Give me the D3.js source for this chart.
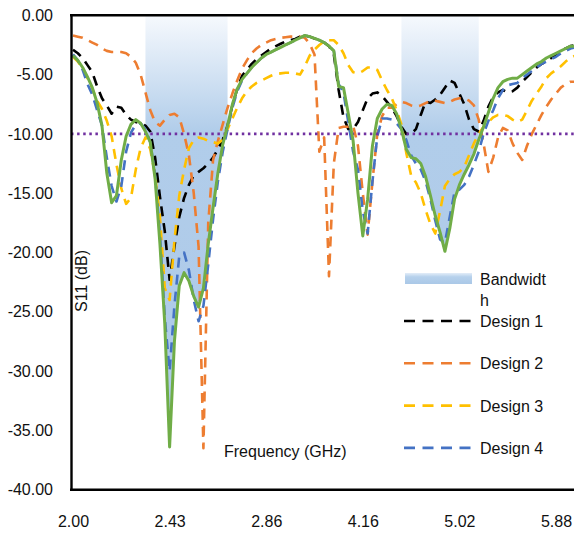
<!DOCTYPE html>
<html>
<head>
<meta charset="utf-8">
<script src="https://cdn.jsdelivr.net/npm/d3@7"></script>
<style>
  html, body { margin: 0; padding: 0; background: #fff; overflow: hidden; }
  text { font-family: "Liberation Sans", Arial, sans-serif; }
</style>
</head>
<body>
<svg id="chart" width="574" height="534"></svg>
<script>
// Frequency category labels, shown on every 20th sample
const tickLabels = ["2.00", "2.43", "2.86", "4.16", "5.02", "5.88"];
const tickStep = 20;
const yTicks = [0, -5, -10, -15, -20, -25, -30, -35, -40];
const threshold = -10;

// Sample index ranges covered by the shaded operating bands
const bandRanges = [[15, 32], [68, 84]];

// S11 (dB) per frequency sample
const design1 = [
  -2.9, -3.2, -3.6, -4.2, -4.8, -6.0, -7.0, -7.6, -8.3, -7.7,
  -7.8, -8.4, -8.8, -9.0, -9.1, -9.3, -9.8, -12.0, -15.3, -18.2,
  -22.3, -19.5, -17.0, -15.4, -14.3, -13.5, -13.2, -12.9, -12.5, -12.0,
  -11.3, -10.5, -9.3, -7.6, -6.2, -5.1, -4.6, -4.1, -3.7, -3.4,
  -3.1, -2.8, -2.6, -2.4, -2.2, -2.1, -2.0, -1.8, -1.7, -1.8,
  -1.95, -2.1, -2.3, -2.6, -3.3, -6.3, -8.6, -9.6, -9.6, -9.0,
  -8.0, -7.0, -6.6, -6.5, -6.8, -7.3, -7.8, -8.5, -9.4, -10.0,
  -10.0, -9.6, -8.4, -7.3, -7.4, -7.1, -6.7, -6.1, -5.5, -5.7,
  -6.6, -7.5, -8.8, -9.6, -9.8, -8.9, -7.7, -6.9, -6.5, -6.3,
  -6.5, -6.4, -6.1, -5.6, -5.2, -4.8, -4.4, -4.1, -3.9, -3.6,
  -3.3, -3.0, -2.8, -2.6, -2.5
];
const design2 = [
  -1.7, -1.8, -1.9, -2.1, -2.3, -2.5, -2.8, -3.0, -3.1, -3.1,
  -3.1, -3.2, -3.5, -4.0, -5.0, -6.5, -8.0, -9.0, -9.3, -8.8,
  -8.4, -8.3, -8.6, -10.0, -11.8, -15.0, -19.5, -36.5, -17.5, -12.2,
  -10.6, -9.2, -7.8, -6.6, -5.5, -4.5, -3.8, -3.2, -2.8, -2.5,
  -2.3, -2.1, -2.0, -1.9, -1.85, -1.8, -1.8, -1.8, -1.9, -2.4,
  -3.3, -11.5, -10.3, -22.0, -12.5, -9.5, -9.4, -9.4, -9.3, -11.0,
  -15.0, -18.5, -14.0, -10.0, -8.5, -7.8, -7.8, -7.5, -7.3, -7.4,
  -7.6, -7.7, -7.6, -7.4, -7.2, -7.2, -7.3, -7.4, -7.3, -7.1,
  -7.0, -7.0, -7.2, -7.6, -8.8, -10.8, -13.2, -12.0, -10.3, -9.5,
  -9.7, -10.8, -11.6, -12.2, -11.0, -10.0, -9.2, -8.4, -7.7, -7.1,
  -6.6, -6.1, -5.8, -5.6, -5.6
];
const design3 = [
  -3.5, -3.9, -4.5, -5.3, -6.2, -7.2, -7.9, -8.9, -10.2, -12.6,
  -14.6, -15.9, -15.4, -13.0, -11.2, -10.3, -11.3, -13.5, -17.0, -23.0,
  -24.0, -19.0, -15.2, -13.0, -11.2, -10.5, -10.3, -10.4, -10.6, -10.7,
  -10.8, -10.5, -9.6, -8.7, -7.8, -7.0, -6.4, -6.0, -5.7, -5.5,
  -5.3, -5.1, -4.95, -4.9, -4.85, -4.85, -4.9, -5.0, -4.3, -3.4,
  -2.9, -2.5, -2.2, -2.1, -2.1, -2.5, -3.2, -4.2, -4.8, -4.9,
  -4.7, -4.4, -4.4, -4.6, -5.5, -6.3, -7.0, -8.0, -9.2, -11.6,
  -13.5, -14.1, -15.0, -16.4, -17.6, -18.4, -16.5, -14.4, -13.8, -13.4,
  -13.2, -12.8, -11.8, -10.8, -10.0, -9.4, -9.0, -8.6, -8.4, -8.4,
  -8.5, -8.8, -9.0, -8.8, -8.0, -7.2, -6.6, -6.0, -5.3, -4.9,
  -4.6, -4.3, -3.9, -3.6, -3.4
];
const design4 = [
  -3.3, -3.8, -4.6, -5.8, -6.7, -8.0, -9.3, -12.0, -14.4, -15.7,
  -14.4, -11.5, -9.9, -9.2, -9.1, -9.6, -10.7, -13.5, -18.5, -25.5,
  -30.0, -24.5, -20.3, -20.0, -21.5, -24.0, -25.8, -24.5, -21.0, -17.2,
  -14.0, -11.5, -9.6, -7.8, -6.4, -5.5, -4.9, -4.4, -4.0, -3.6,
  -3.3, -3.1, -2.9, -2.7, -2.5, -2.3, -2.1, -1.9, -1.7, -1.8,
  -1.95, -2.1, -2.3, -2.6, -3.0, -5.8, -6.5, -9.0, -11.5, -13.0,
  -16.5, -18.4, -14.0, -10.2, -8.7, -8.7, -8.8, -9.1, -9.6, -10.5,
  -11.8, -12.5, -13.0, -14.0, -15.5, -17.3, -18.9, -19.2, -17.0, -14.9,
  -14.7, -14.3, -13.6, -12.6, -11.5, -10.0, -8.9, -8.0, -7.0, -6.3,
  -5.9, -5.8, -5.7, -5.3, -5.0, -4.7, -4.4, -4.1, -3.9, -3.7,
  -3.5, -3.2, -3.0, -2.8, -2.7
];
const optimized = [
  -3.4, -3.8, -4.4, -5.2, -6.1, -7.4, -9.3, -13.3, -15.8, -15.2,
  -12.2, -10.2, -9.2, -8.8, -9.1, -9.8, -10.7, -13.8, -19.3, -26.0,
  -36.4, -27.5, -22.8, -21.7, -22.4, -23.7, -24.6, -23.0, -19.3, -16.2,
  -13.3, -10.9, -9.3, -7.5, -6.2, -5.4, -4.9, -4.4, -4.0, -3.6,
  -3.3, -3.1, -2.9, -2.7, -2.5, -2.3, -2.1, -1.9, -1.7, -1.8,
  -1.95, -2.1, -2.3, -2.6, -3.0, -6.0, -6.1, -8.3, -10.6, -15.0,
  -18.6, -15.5, -11.0, -8.7, -7.9, -7.5, -7.6, -8.3, -9.6, -11.3,
  -12.0, -12.1, -12.5, -13.6, -15.2, -16.9, -18.3, -19.9, -18.0, -15.5,
  -14.3, -13.4, -12.6, -11.7, -10.5, -9.4, -8.2, -7.0, -6.1, -5.6,
  -5.4, -5.3, -5.3, -5.0, -4.7, -4.4, -4.1, -3.9, -3.6, -3.4,
  -3.2, -3.0, -2.8, -2.6, -2.6
];

const dashedSeries = [
  { name: "Design 1", values: design1, color: "#000000" },
  { name: "Design 2", values: design2, color: "#ED7D31" },
  { name: "Design 3", values: design3, color: "#FFC000" },
  { name: "Design 4", values: design4, color: "#4472C4" }
];

const svg = d3.select("#chart");
const plot = { left: 71, right: 600, top: 15.3, bottom: 489.7 };

const x = d3.scaleLinear().domain([0, 100]).range([73, 556]);
const y = d3.scaleLinear().domain([-40, 0]).range([plot.bottom, plot.top]);

const defs = svg.append("defs");
defs.append("clipPath").attr("id", "plotClip")
  .append("rect")
  .attr("x", plot.left).attr("y", plot.top)
  .attr("width", plot.right - plot.left).attr("height", plot.bottom - plot.top);

const bandGrad = defs.append("linearGradient").attr("id", "bandGrad")
  .attr("gradientUnits", "userSpaceOnUse")
  .attr("x1", 0).attr("y1", plot.top).attr("x2", 0).attr("y2", plot.bottom);
bandGrad.append("stop").attr("offset", 0).attr("stop-color", "#f6f9fd");
bandGrad.append("stop").attr("offset", 0.245).attr("stop-color", "#b1cdea");
bandGrad.append("stop").attr("offset", 1).attr("stop-color", "#adc9e8");

const swatchGrad = defs.append("linearGradient").attr("id", "swatchGrad")
  .attr("x1", 0).attr("y1", 0).attr("x2", 0).attr("y2", 1);
swatchGrad.append("stop").attr("offset", 0).attr("stop-color", "#e3edf8");
swatchGrad.append("stop").attr("offset", 0.35).attr("stop-color", "#b6d1ec");
swatchGrad.append("stop").attr("offset", 1).attr("stop-color", "#aac8e7");

const g = svg.append("g").attr("clip-path", "url(#plotClip)");

// Shaded bands: area from 0 dB down to the optimized response
const inBand = i => bandRanges.some(([a, b]) => i >= a && i <= b);
const bandArea = d3.area()
  .defined((d, i) => inBand(i))
  .x((d, i) => x(i))
  .y0(y(0))
  .y1(d => y(d));
g.append("path").datum(optimized)
  .attr("d", bandArea)
  .attr("fill", "url(#bandGrad)");

const line = d3.line().x((d, i) => x(i)).y(d => y(d));

// Dashed comparison designs
dashedSeries.forEach(s => {
  g.append("path").datum(s.values)
    .attr("d", line)
    .attr("fill", "none")
    .attr("stroke", s.color)
    .attr("stroke-width", 2.6)
    .attr("stroke-dasharray", "10,7")
    .attr("stroke-linejoin", "round");
});

// -10 dB reference line
g.append("line")
  .attr("x1", plot.left).attr("x2", plot.right)
  .attr("y1", y(threshold)).attr("y2", y(threshold))
  .attr("stroke", "#7030A0")
  .attr("stroke-width", 2.6)
  .attr("stroke-dasharray", "2.5,3.6");

// Optimized response, solid
g.append("path").datum(optimized)
  .attr("d", line)
  .attr("fill", "none")
  .attr("stroke", "#70AD47")
  .attr("stroke-width", 3)
  .attr("stroke-linejoin", "round");

// Frame lines
svg.append("line")
  .attr("x1", plot.left - 1).attr("x2", plot.right)
  .attr("y1", plot.top).attr("y2", plot.top)
  .attr("stroke", "#000").attr("stroke-width", 2.6);
svg.append("line")
  .attr("x1", plot.left - 1).attr("x2", plot.right)
  .attr("y1", plot.bottom).attr("y2", plot.bottom)
  .attr("stroke", "#000").attr("stroke-width", 2.6);

// Y axis
const yAxis = svg.append("g")
  .attr("transform", `translate(${plot.left},0)`)
  .call(d3.axisLeft(y).tickValues(yTicks).tickSize(0).tickPadding(18)
    .tickFormat(v => v.toFixed(2)));
yAxis.select(".domain").attr("stroke", "#000").attr("stroke-width", 2.4);
yAxis.selectAll("text").attr("font-size", 16).attr("fill", "#111")
  .attr("font-family", "'Liberation Sans', Arial, sans-serif");

// X axis labels
const xTickValues = tickLabels.map((_, i) => i * tickStep);
const xAxis = svg.append("g")
  .attr("transform", `translate(0,${plot.bottom})`)
  .call(d3.axisBottom(x).tickValues(xTickValues).tickSize(0).tickPadding(26)
    .tickFormat((d, i) => tickLabels[i]));
xAxis.select(".domain").remove();
xAxis.selectAll("text").attr("font-size", 16).attr("fill", "#111")
  .attr("font-family", "'Liberation Sans', Arial, sans-serif");

// Axis titles
svg.append("text")
  .attr("transform", "translate(87,281) rotate(-90)")
  .attr("text-anchor", "middle")
  .attr("font-size", 16).attr("fill", "#111")
  .text("S11 (dB)");
svg.append("text")
  .attr("x", 224).attr("y", 457)
  .attr("font-size", 16).attr("fill", "#111")
  .text("Frequency (GHz)");

// Legend
const legend = svg.append("g");
legend.append("rect")
  .attr("x", 405).attr("y", 273).attr("width", 67).attr("height", 11)
  .attr("fill", "url(#swatchGrad)");
legend.append("text").attr("x", 480).attr("y", 285)
  .attr("font-size", 16).attr("fill", "#111").text("Bandwidt");
legend.append("text").attr("x", 480).attr("y", 306)
  .attr("font-size", 16).attr("fill", "#111").text("h");

dashedSeries.forEach((s, i) => {
  const ly = 321 + i * 42.3;
  legend.append("line")
    .attr("x1", 404).attr("x2", 471)
    .attr("y1", ly).attr("y2", ly)
    .attr("stroke", s.color).attr("stroke-width", 2.6)
    .attr("stroke-dasharray", "11,7.5");
  legend.append("text").attr("x", 480).attr("y", ly + 6)
    .attr("font-size", 16).attr("fill", "#111").text(s.name);
});
</script>
</body>
</html>
